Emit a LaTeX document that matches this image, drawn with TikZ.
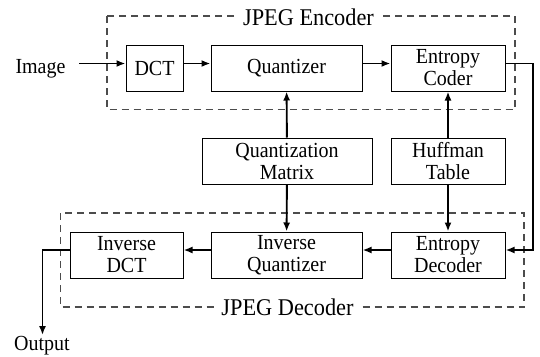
\documentclass[tikz,border=0pt]{standalone}
\usepackage{fontspec}
\setmainfont[FakeStretch=0.93]{Liberation Serif}
\usetikzlibrary{arrows.meta}
\begin{document}
\begin{tikzpicture}[x=1pt,y=-1pt,
  font=\fontsize{21.5}{22}\selectfont,
  blk/.style={draw,line width=1pt,inner sep=0pt,align=center},
  flow/.style={line width=1.9pt,-{Latex[length=9pt,width=7pt]}},
  grp/.style={draw=black!70,line width=1.1pt,dash pattern=on 7pt off 5pt},
  ttl/.style={fill=white,inner xsep=5pt,inner ysep=2pt,anchor=base,font=\fontsize{24}{24}\selectfont}]
\useasboundingbox (0,0) rectangle (540,356);
% encoder and decoder groups
\draw[grp] (107,16) rectangle (515,109.5);
\draw[grp] (60.5,213) rectangle (524,307);
\node[ttl] (enc) at (308.5,25) {JPEG Encoder};
\node[ttl] (dec) at (287.5,315) {JPEG Decoder};
% blocks
\node[blk,minimum width=57pt,minimum height=46pt] (dct) at (154.5,68) {DCT};
\node[blk,minimum width=151pt,minimum height=46pt] (q) at (286.5,68) {Quantizer};
\node[blk,minimum width=114pt,minimum height=46pt] (ec) at (448,68) {Entropy\\Coder};
\node[blk,minimum width=170pt,minimum height=46pt] (qm) at (287,161) {Quantization\\Matrix};
\node[blk,minimum width=114pt,minimum height=46pt] (ht) at (448,161) {Huffman\\Table};
\node[blk,minimum width=113pt,minimum height=46pt] (idct) at (126.5,255) {Inverse\\DCT};
\node[blk,minimum width=151pt,minimum height=46pt] (iq) at (286.5,255) {Inverse\\Quantizer};
\node[blk,minimum width=114pt,minimum height=46pt] (ed) at (448,255) {Entropy\\Decoder};
\node[anchor=base] (img) at (40.5,73.5) {Image};
\node[anchor=base,inner ysep=1pt] (out) at (42,350.5) {Output};
% rows the horizontal connectors run along, and turning points
\coordinate (ra) at (0,63.5);
\coordinate (rb) at (0,250);
\coordinate (r1) at (533,0);
\coordinate (oc) at (42.5,0);
\coordinate (ia) at (79,63.5);
% connections
\draw[flow] (ia) -- (dct.west |- ra);
\draw[flow] (dct.east |- ra) -- (q.west |- ra);
\draw[flow] (q.east |- ra) -- (ec.west |- ra);
\draw[flow] (qm) -- (q);
\draw[flow] (qm) -- (iq);
\draw[flow] (ht) -- (ec);
\draw[flow] (ht) -- (ed);
\draw[flow] (ec.east |- ra) -- (r1 |- ra) -- (r1 |- rb) -- (ed.east |- rb);
\draw[flow] (ed.west |- rb) -- (iq.east |- rb);
\draw[flow] (iq.west |- rb) -- (idct.east |- rb);
\draw[flow] (idct.west |- rb) -- (oc |- rb) -- (out.north -| oc);
\end{tikzpicture}
\end{document}
